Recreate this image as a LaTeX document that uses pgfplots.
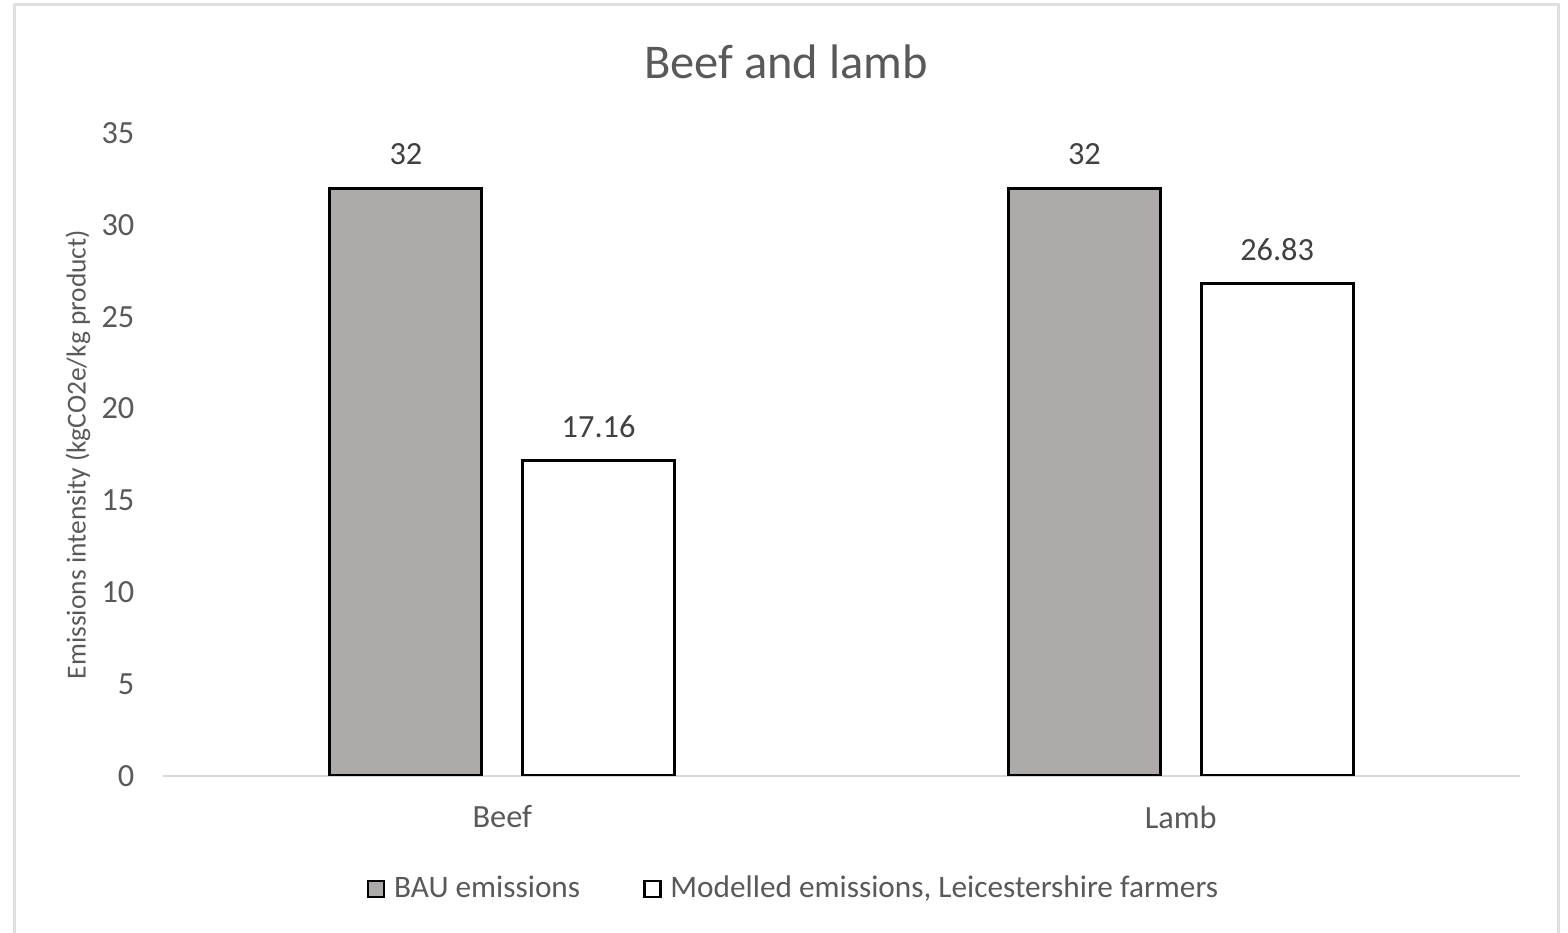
\documentclass[border=0pt]{standalone}
\usepackage{pgfplots}
\pgfplotsset{compat=1.18}
\usepackage{fontspec}
\setmainfont{Carlito}
\definecolor{bargray}{HTML}{AEAAAA}
\definecolor{txtgray}{HTML}{595959}
\definecolor{lblgray}{HTML}{404040}
\definecolor{axgray}{HTML}{D9D9D9}
\begin{document}
\begin{tikzpicture}[x=1mm,y=1mm]
\useasboundingbox (0,0) rectangle (156.8,93.3);
\draw[color=black!12, line width=0.3mm] (1.4,-1) -- (1.4,92.8) -- (155.8,92.8) -- (155.8,-1);
\begin{axis}[
  at={(16.3mm,15.7mm)}, anchor=south west,
  scale only axis, width=135.7mm, height=64.3mm,
  xmin=-0.5, xmax=1.5, ymin=0, ymax=35,
  axis x line*=bottom, axis y line*=left,
  x axis line style={color=axgray, line width=0.2mm, -},
  y axis line style={draw=none},
  major tick length=0,
  xtick={0,1}, xticklabels={Beef,Lamb},
  ytick={0,5,...,35},
  /pgf/number format/assume math mode=true,
  tick label style={font=\fontsize{9.2}{11}\selectfont, text=txtgray},
  xticklabel style={anchor=center, yshift=-4.1mm},
  yticklabel style={anchor=east, inner sep=0pt, xshift=-2.8mm},
  ylabel={Emissions intensity (kgCO2e/kg product)},
  ylabel style={at={(axis description cs:0,0.5)}, anchor=center, yshift=8.5mm, font=\fontsize{7.8}{9}\selectfont, text=txtgray},
  title={Beef and lamb},
  title style={at={(axis description cs:0.459,1)}, anchor=center, yshift=5.0mm, font=\fontsize{13.8}{16}\selectfont, text=txtgray},
  ybar, bar width=0.224,
  nodes near coords,
  every node near coord/.append style={anchor=center, yshift=3.4mm, font=\fontsize{9.2}{11}\selectfont, text=lblgray},
  legend style={at={(0.4665,-0.176)}, anchor=center, draw=none, legend columns=2,
    font=\fontsize{8.9}{11}\selectfont, text=txtgray,
    /tikz/every even column/.append style={column sep=5.6mm}},
  legend image code/.code={\draw[#1, line width=0.25mm] (0mm,-0.8mm) rectangle (1.6mm,0.8mm); \path[draw=none, fill=none] (0,0) -- (1.9mm,0);},
]
\addplot[fill=bargray, draw=black, line width=0.3mm, bar shift=-0.142] coordinates {(0,32) (1,32)};
\addlegendentry{BAU emissions}
\addplot[fill=white, draw=black, line width=0.3mm, bar shift=0.142] coordinates {(0,17.16) (1,26.83)};
\addlegendentry{Modelled emissions, Leicestershire farmers}
\end{axis}
\end{tikzpicture}
\end{document}
